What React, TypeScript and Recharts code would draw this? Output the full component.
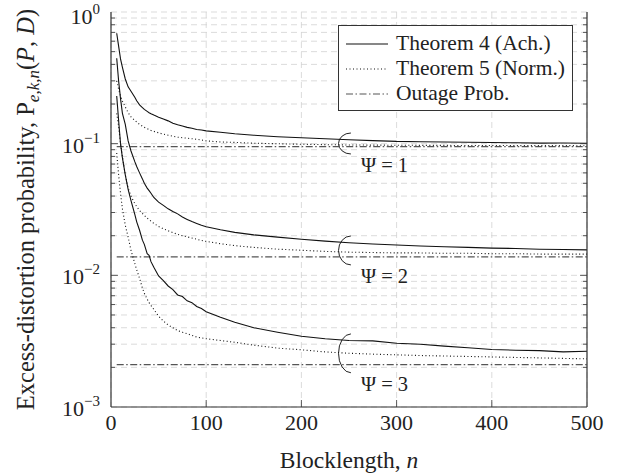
import { LineChart, Line, XAxis, YAxis, CartesianGrid, Legend, ReferenceArea, Label } from 'recharts'

// blocklength n (x axis)
const blocklengths = [6, 8, 10, 12, 15, 18, 21, 25, 27, 30, 33, 35, 38, 40, 42, 45, 50, 55, 60, 65, 70, 75, 80, 85, 90, 95, 100, 115, 130, 150, 175, 200, 225, 250, 275, 300, 325, 350, 375, 400, 425, 450, 475, 500]

// Theorem 4 (achievability), solid
const thm4Psi1 = [0.69, 0.55, 0.44, 0.38, 0.31, 0.27, 0.25, 0.225, 0.212, 0.197, 0.188, 0.182, 0.176, 0.172, 0.169, 0.165, 0.159, 0.154, 0.149, 0.143, 0.139, 0.136, 0.133, 0.131, 0.128, 0.127, 0.125, 0.122, 0.119, 0.116, 0.113, 0.111, 0.109, 0.107, 0.1055, 0.104, 0.1035, 0.103, 0.1025, 0.102, 0.1015, 0.101, 0.1012, 0.1007]
const thm4Psi2 = [0.445, 0.3, 0.22, 0.17, 0.14, 0.105, 0.088, 0.073, 0.067, 0.06, 0.054, 0.05, 0.046, 0.044, 0.042, 0.039, 0.036, 0.034, 0.032, 0.0305, 0.0293, 0.0277, 0.0266, 0.0256, 0.0248, 0.024, 0.0234, 0.0222, 0.0212, 0.0203, 0.0195, 0.0188, 0.0182, 0.0177, 0.0173, 0.017, 0.0167, 0.0165, 0.0163, 0.0161, 0.016, 0.0158, 0.0157, 0.0156]
const thm4Psi3 = [0.23, 0.15, 0.1, 0.078, 0.058, 0.045, 0.037, 0.029, 0.0255, 0.022, 0.0185, 0.0172, 0.0146, 0.0142, 0.0127, 0.0115, 0.0099, 0.0091, 0.0083, 0.0078, 0.0071, 0.0069, 0.0064, 0.0062, 0.0058, 0.0056, 0.0053, 0.0048, 0.0044, 0.004, 0.0037, 0.00345, 0.0033, 0.0032, 0.00318, 0.00305, 0.003, 0.0029, 0.00282, 0.00273, 0.0027, 0.00268, 0.00262, 0.00265]

// Theorem 5 (normal approximation), dotted
const thm5Psi1 = [0.3, 0.26, 0.23, 0.21, 0.19, 0.172, 0.16, 0.15, 0.146, 0.14, 0.136, 0.133, 0.13, 0.128, 0.126, 0.124, 0.121, 0.118, 0.116, 0.114, 0.112, 0.111, 0.11, 0.109, 0.108, 0.1065, 0.105, 0.103, 0.1022, 0.1008, 0.0998, 0.099, 0.0983, 0.0977, 0.0975, 0.0973, 0.0971, 0.097, 0.0969, 0.0968, 0.0967, 0.0966, 0.0966, 0.0965]
const thm5Psi2 = [0.17, 0.135, 0.1, 0.08, 0.058, 0.046, 0.04, 0.035, 0.0333, 0.031, 0.0295, 0.0285, 0.0272, 0.0265, 0.0258, 0.0248, 0.0235, 0.0226, 0.0218, 0.0211, 0.0205, 0.02, 0.0196, 0.0192, 0.0188, 0.0184, 0.0181, 0.0174, 0.0168, 0.0163, 0.0158, 0.0155, 0.0152, 0.015, 0.0149, 0.0148, 0.0148, 0.0147, 0.0147, 0.0146, 0.0146, 0.0145, 0.0145, 0.0145]
const thm5Psi3 = [0.085, 0.058, 0.042, 0.032, 0.024, 0.0195, 0.0155, 0.0123, 0.011, 0.0095, 0.008, 0.0073, 0.0066, 0.0062, 0.0059, 0.0055, 0.0049, 0.0045, 0.0042, 0.004, 0.0038, 0.0037, 0.0036, 0.0035, 0.0034, 0.00335, 0.0033, 0.0032, 0.0031, 0.00295, 0.0028, 0.00272, 0.00262, 0.00256, 0.00252, 0.00249, 0.00246, 0.00244, 0.00242, 0.0024, 0.00238, 0.00236, 0.00234, 0.00232]

// outage probability, one level per Psi
const outage = [0.095, 0.0138, 0.0021]

// Psi annotations: label, n range of the brace, probability range
const psiLabels = ['Ψ = 1', 'Ψ = 2', 'Ψ = 3']
const braceN = [239, 252]
const braceP = [[0.1205, 0.0835], [0.0199, 0.012], [0.00359, 0.00182]]

const xTicks = [0, 100, 200, 300, 400, 500]
const yDecades = [0.001, 0.01, 0.1, 1]
const yMantissas = [2, 3, 4, 5, 6, 7, 8, 9]
const yExponents: Record<string, string> = { '0.001': '−3', '0.01': '−2', '0.1': '−1', '1': '0' }

const legendNames = ['Theorem 4 (Ach.)', 'Theorem 5 (Norm.)', 'Outage Prob.']

const W = 627
const H = 474
const font = '"Liberation Serif", "Times New Roman", serif'
const frame = '#333'
const dashDot = '7 2.5 1.5 2.5'

const yTicks = [
  ...yDecades,
  ...yDecades.slice(0, 3).flatMap((d) => yMantissas.map((m) => +(d * m).toPrecision(3))),
].sort((a, b) => a - b)

const data = blocklengths.map((n, i) => ({
  n,
  a1: thm4Psi1[i],
  a2: thm4Psi2[i],
  a3: thm4Psi3[i],
  b1: thm5Psi1[i],
  b2: thm5Psi2[i],
  b3: thm5Psi3[i],
  o1: outage[0],
  o2: outage[1],
  o3: outage[2],
}))

const isMajor = (v: number) => yDecades.includes(v)

function LeftTick({ x, y, payload }: any) {
  const v = payload.value
  const major = isMajor(v)
  // top label sits a bit lower so its exponent stays on the page
  const base = v === 1 ? y + 12 : y + 9
  return (
    <g>
      {v > 0.001 && v < 1 && <line x1={x} x2={x + (major ? 7 : 4)} y1={y} y2={y} stroke={frame} strokeWidth={0.8} />}
      {major && (
        <text x={x - 11} y={base} textAnchor="end" fontFamily={font} fontSize={22} fill="#222">
          <tspan>10</tspan>
          <tspan dy={-10} fontSize={15}>{yExponents[String(v)]}</tspan>
        </text>
      )}
    </g>
  )
}

function RightTick({ x, y, payload }: any) {
  const v = payload.value
  if (v <= 0.001 || v >= 1) return <g />
  return <line x1={x} x2={x - (isMajor(v) ? 7 : 4)} y1={y} y2={y} stroke={frame} strokeWidth={0.8} />
}

function BottomTick({ x, y, payload }: any) {
  const v = payload.value
  return (
    <g>
      {v > 0 && v < 500 && <line x1={x} x2={x} y1={y} y2={y - 7} stroke={frame} strokeWidth={0.8} />}
      <text x={x} y={y + 23} textAnchor="middle" fontFamily={font} fontSize={22} fill="#222">
        {v}
      </text>
    </g>
  )
}

function TopTick({ x, y, payload }: any) {
  const v = payload.value
  if (v <= 0 || v >= 500) return <g />
  return <line x1={x} x2={x} y1={y} y2={y + 7} stroke={frame} strokeWidth={0.8} />
}

function XTitle({ viewBox }: any) {
  return (
    <text x={viewBox.x + viewBox.width / 2} y={viewBox.y + 61} textAnchor="middle" fontFamily={font} fontSize={23.5} fill="#222">
      Blocklength, <tspan fontStyle="italic">n</tspan>
    </text>
  )
}

function YTitle({ viewBox }: any) {
  const cx = 34
  const cy = viewBox.y + viewBox.height / 2
  return (
    <text x={cx} y={cy} transform={`rotate(-90, ${cx}, ${cy})`} textAnchor="middle" fontFamily={font} fontSize={24.5} fill="#222">
      <tspan>Excess-distortion probability, P</tspan>
      <tspan dy={5} fontSize={17} fontStyle="italic">e,k,n</tspan>
      <tspan dy={-5}>(</tspan>
      <tspan fontStyle="italic">P</tspan>
      <tspan>, </tspan>
      <tspan fontStyle="italic">D</tspan>
      <tspan>)</tspan>
    </text>
  )
}

function Brace({ x, y, width, height, label }: any) {
  const r = x + width
  return (
    <g>
      <path d={`M ${r} ${y} A ${width} ${height / 2} 0 0 0 ${r} ${y + height}`} fill="none" stroke="#222" strokeWidth={1} />
      <text x={r + 10} y={y + height + 18} fontFamily={font} fontSize={20.5} fill="#222">
        {label}
      </text>
    </g>
  )
}

const legendStyles = [
  { dash: undefined, color: '#111' },
  { dash: '1 2.5', color: '#111' },
  { dash: dashDot, color: '#555' },
]

function LegendBox() {
  return (
    <div style={{ boxSizing: 'border-box', width: 235, height: 86, border: `1px solid ${frame}`, background: '#fff', padding: '5px 0 0 7px', fontFamily: font, fontSize: 21.5, color: '#222' }}>
      {legendNames.map((name, i) => (
        <div key={name} style={{ display: 'flex', alignItems: 'center', height: 25, whiteSpace: 'nowrap' }}>
          <svg width={44} height={10} style={{ marginRight: 6, flex: 'none' }}>
            <line x1={0} x2={42} y1={5} y2={5} stroke={legendStyles[i].color} strokeWidth={1.1} strokeDasharray={legendStyles[i].dash} />
          </svg>
          <span>{name}</span>
        </div>
      ))}
    </div>
  )
}

export default function App() {
  return (
    <div style={{ position: 'absolute', left: 0, top: 0, width: W, height: H, background: '#fff' }}>
      <LineChart width={W} height={H} data={data} margin={{ top: 12, right: 0, bottom: 0, left: 0 }}>
        <CartesianGrid xAxisId="b" yAxisId="l" stroke="#d2d2d2" strokeDasharray="6 4" strokeWidth={0.8} />
        <XAxis xAxisId="b" dataKey="n" type="number" domain={[0, 500]} ticks={xTicks} height={67} tickSize={0} tickMargin={0} tick={<BottomTick />} tickLine={false} axisLine={{ stroke: frame, strokeWidth: 1.2 }} allowDataOverflow>
          <Label content={<XTitle />} />
        </XAxis>
        <XAxis xAxisId="t" orientation="top" dataKey="n" type="number" domain={[0, 500]} ticks={xTicks} height={0} tickSize={0} tickMargin={0} tick={<TopTick />} tickLine={false} axisLine={{ stroke: frame, strokeWidth: 1.2 }} allowDataOverflow />
        <YAxis yAxisId="l" type="number" scale="log" domain={[0.001, 1]} ticks={yTicks} width={111} tickSize={0} tickMargin={0} tick={<LeftTick />} tickLine={false} axisLine={{ stroke: frame, strokeWidth: 1.2 }} allowDataOverflow interval={0}>
          <Label content={<YTitle />} />
        </YAxis>
        <YAxis yAxisId="r" orientation="right" type="number" scale="log" domain={[0.001, 1]} ticks={yTicks} width={40} tickSize={0} tickMargin={0} tick={<RightTick />} tickLine={false} axisLine={{ stroke: frame, strokeWidth: 1.2 }} allowDataOverflow interval={0} />

        {outage.map((_, i) => (
          <Line key={`o${i}`} xAxisId="b" yAxisId="l" dataKey={`o${i + 1}`} stroke="#555" strokeWidth={1.2} strokeDasharray={dashDot} dot={false} isAnimationActive={false} />
        ))}
        {[1, 2, 3].map((k) => (
          <Line key={`b${k}`} xAxisId="b" yAxisId="l" dataKey={`b${k}`} stroke="#111" strokeWidth={1.1} strokeDasharray="1 2.5" dot={false} isAnimationActive={false} />
        ))}
        {[1, 2, 3].map((k) => (
          <Line key={`a${k}`} xAxisId="b" yAxisId="l" dataKey={`a${k}`} stroke="#111" strokeWidth={1.1} dot={false} isAnimationActive={false} />
        ))}

        {braceP.map(([hi, lo], i) => (
          <ReferenceArea key={i} xAxisId="b" yAxisId="l" x1={braceN[0]} x2={braceN[1]} y1={lo} y2={hi} shape={<Brace label={psiLabels[i]} />} />
        ))}

        <Legend layout="vertical" align="center" verticalAlign="middle" content={<LegendBox />} wrapperStyle={{ left: 338, top: 25, width: 235, height: 86 }} />
      </LineChart>
    </div>
  )
}
